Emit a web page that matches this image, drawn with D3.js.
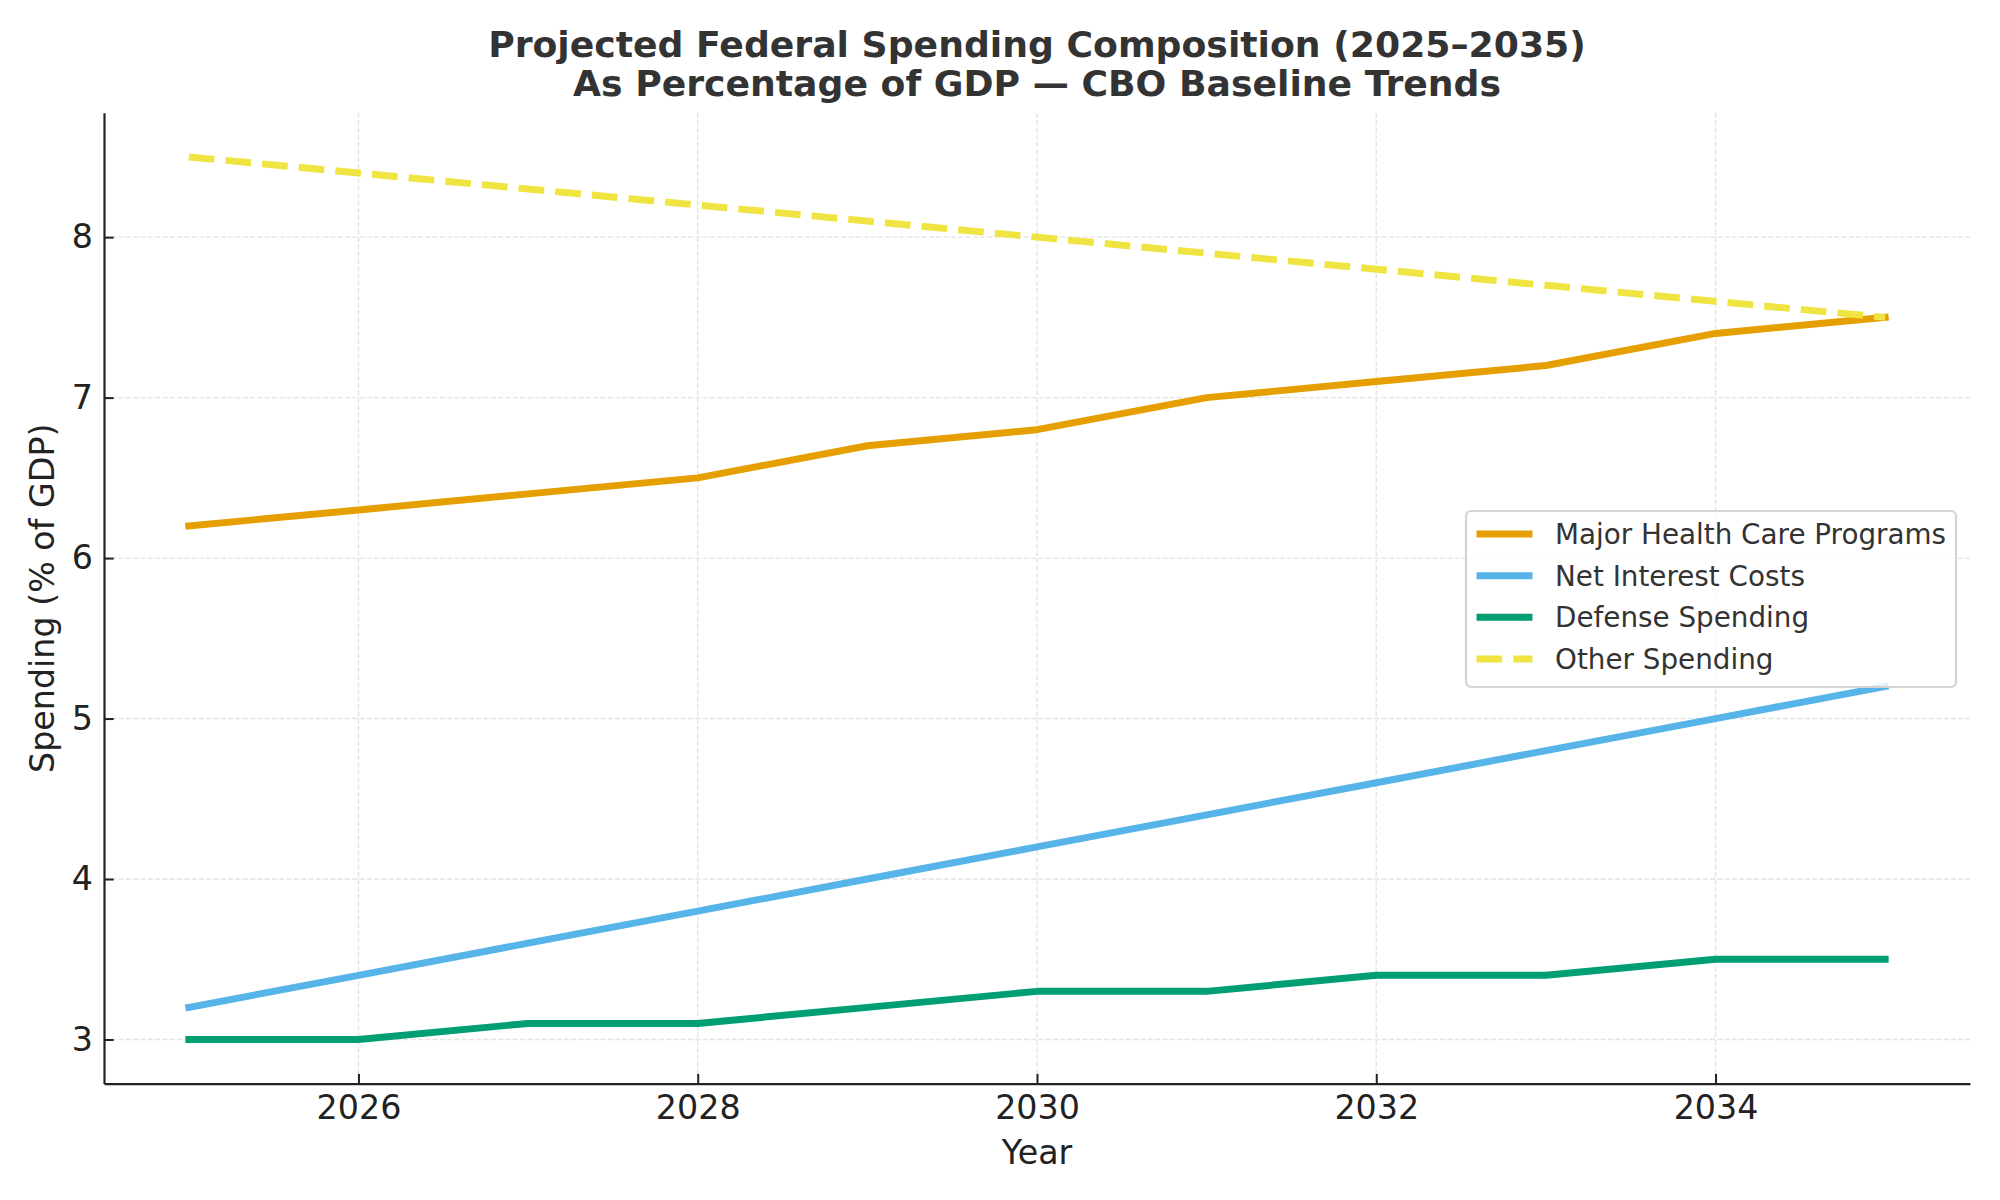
<!DOCTYPE html>
<html>
<head>
<meta charset="utf-8">
<script src="https://cdn.jsdelivr.net/npm/d3@7"></script>
<style>
  body { margin: 0; background: #fff; }
  svg { display: block; font-family: "DejaVu Sans", sans-serif; }
</style>
</head>
<body>
<div id="chart"></div>
<script>
// Chart data (CBO baseline, % of GDP)
const years = [2025, 2026, 2027, 2028, 2029, 2030, 2031, 2032, 2033, 2034, 2035];
const healthCare = [6.2, 6.3, 6.4, 6.5, 6.7, 6.8, 7.0, 7.1, 7.2, 7.4, 7.5];
const netInterest = [3.2, 3.4, 3.6, 3.8, 4.0, 4.2, 4.4, 4.6, 4.8, 5.0, 5.2];
const defense = [3.0, 3.0, 3.1, 3.1, 3.2, 3.3, 3.3, 3.4, 3.4, 3.5, 3.5];
const otherSpending = [8.5, 8.4, 8.3, 8.2, 8.1, 8.0, 7.9, 7.8, 7.7, 7.6, 7.5];

const seriesNames = ["Major Health Care Programs", "Net Interest Costs", "Defense Spending", "Other Spending"];
const seriesValues = [healthCare, netInterest, defense, otherSpending];
const xTicks = [2026, 2028, 2030, 2032, 2034];
const yTicks = [3, 4, 5, 6, 7, 8];

// Style constants
const width = 2000;
const height = 1200;
const STYLES = {
    colors: ["#E69F00", "#56B4E9", "#009E73", "#F0E442"],
    dashed: [false, false, false, true],
    lineWidth: 6.94,
    dash: "25.7,11.1",
    grid: "#e4e4e4",
    spine: "#222222",
    text: "#222222",
    title: "#333333",
    labelSize: "33.3px"
};

const plot = { left: 104, right: 1970, top: 112.8, bottom: 1083.6 };

const svg = d3.select("#chart")
    .append("svg")
    .attr("width", width)
    .attr("height", height);

// Scales with 5% margins like matplotlib
const xExt = d3.extent(years);
const xPad = (xExt[1] - xExt[0]) * 0.05;
const x = d3.scaleLinear()
    .domain([xExt[0] - xPad, xExt[1] + xPad])
    .range([plot.left, plot.right]);

const yExt = d3.extent(seriesValues.flat());
const yPad = (yExt[1] - yExt[0]) * 0.05;
const y = d3.scaleLinear()
    .domain([yExt[0] - yPad, yExt[1] + yPad])
    .range([plot.bottom, plot.top]);

// Grid
const grid = svg.append("g")
    .attr("stroke", STYLES.grid)
    .attr("stroke-width", 1.39)
    .attr("stroke-dasharray", "5.1,2.2");

grid.selectAll("line.h")
    .data(yTicks)
    .enter()
    .append("line")
    .attr("x1", plot.left)
    .attr("x2", plot.right)
    .attr("y1", d => y(d))
    .attr("y2", d => y(d));

grid.selectAll("line.v")
    .data(xTicks)
    .enter()
    .append("line")
    .attr("x1", d => x(d))
    .attr("x2", d => x(d))
    .attr("y1", plot.top)
    .attr("y2", plot.bottom);

// Lines
const line = d3.line()
    .x((d, i) => x(years[i]))
    .y(d => y(d));

seriesValues.forEach((vals, i) => {
    svg.append("path")
        .attr("d", line(vals))
        .attr("fill", "none")
        .attr("stroke", STYLES.colors[i])
        .attr("stroke-width", STYLES.lineWidth)
        .attr("stroke-linejoin", "round")
        .attr("stroke-linecap", STYLES.dashed[i] ? "butt" : "square")
        .attr("stroke-dasharray", STYLES.dashed[i] ? STYLES.dash : null);
});

// Axes
const xAxis = svg.append("g")
    .attr("transform", `translate(0,${plot.bottom})`)
    .call(d3.axisBottom(x)
        .tickValues(xTicks)
        .tickFormat(d3.format("d"))
        .tickSizeInner(-9.7)
        .tickSizeOuter(0)
        .tickPadding(12));

const yAxis = svg.append("g")
    .attr("transform", `translate(${plot.left},0)`)
    .call(d3.axisLeft(y)
        .tickValues(yTicks)
        .tickFormat(d3.format("d"))
        .tickSizeInner(-9.7)
        .tickSizeOuter(0)
        .tickPadding(11));

[xAxis, yAxis].forEach(ax => {
    ax.select(".domain")
        .attr("stroke", STYLES.spine)
        .attr("stroke-width", 2.2);
    ax.selectAll(".tick line")
        .attr("stroke", STYLES.spine)
        .attr("stroke-width", 2);
    ax.selectAll(".tick text")
        .attr("fill", STYLES.text)
        .style("font-family", "DejaVu Sans")
        .style("font-size", STYLES.labelSize);
});

// Axis labels
svg.append("text")
    .attr("x", (plot.left + plot.right) / 2)
    .attr("y", 1164)
    .attr("text-anchor", "middle")
    .attr("fill", STYLES.text)
    .style("font-size", STYLES.labelSize)
    .text("Year");

svg.append("text")
    .attr("transform", `translate(54,${(plot.top + plot.bottom) / 2}) rotate(-90)`)
    .attr("text-anchor", "middle")
    .attr("fill", STYLES.text)
    .style("font-size", STYLES.labelSize)
    .text("Spending (% of GDP)");

// Title
const title = svg.append("text")
    .attr("text-anchor", "middle")
    .attr("fill", STYLES.title)
    .style("font-size", "36.2px")
    .style("font-weight", "bold");

title.append("tspan")
    .attr("x", (plot.left + plot.right) / 2)
    .attr("y", 57)
    .text("Projected Federal Spending Composition (2025\u20132035)");

title.append("tspan")
    .attr("x", (plot.left + plot.right) / 2)
    .attr("y", 96)
    .text("As Percentage of GDP \u2014 CBO Baseline Trends");

// Legend
const legend = svg.append("g")
    .attr("transform", "translate(1466,511)");

legend.append("rect")
    .attr("width", 490)
    .attr("height", 176)
    .attr("rx", 5)
    .attr("fill", "#ffffff")
    .attr("fill-opacity", 0.8)
    .attr("stroke", "#d4d4d4")
    .attr("stroke-width", 2.2);

const rowY = d3.scaleLinear().domain([0, 3]).range([23, 148]);

seriesNames.forEach((name, i) => {
    const ly = rowY(i);
    legend.append("line")
        .attr("x1", STYLES.dashed[i] ? 10.5 : 14)
        .attr("x2", STYLES.dashed[i] ? 66.5 : 63)
        .attr("y1", ly)
        .attr("y2", ly)
        .attr("stroke", STYLES.colors[i])
        .attr("stroke-width", STYLES.lineWidth)
        .attr("stroke-linecap", STYLES.dashed[i] ? "butt" : "square")
        .attr("stroke-dasharray", STYLES.dashed[i] ? STYLES.dash : null);

    legend.append("text")
        .attr("x", 89)
        .attr("y", ly)
        .attr("dy", "0.36em")
        .attr("fill", STYLES.title)
        .style("font-size", "27.8px")
        .text(name);
});
</script>
</body>
</html>
